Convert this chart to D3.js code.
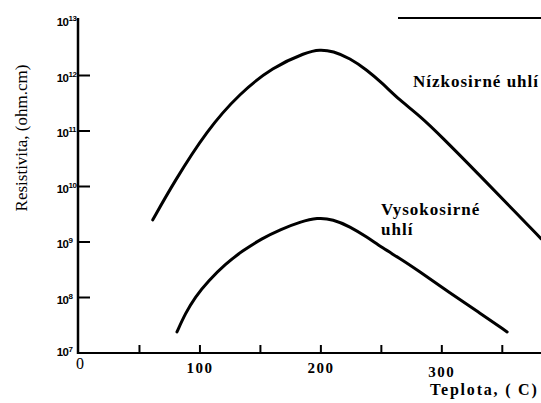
<!DOCTYPE html>
<html><head><meta charset="utf-8">
<script src="https://cdn.jsdelivr.net/npm/d3@7"></script>
<style>body{margin:0;background:#fff}svg{display:block}</style>
</head><body>
<svg id="c" width="541" height="403"></svg>
<script>
// Data (temperature in °C, resistivity in ohm.cm)
const lowSulfurT  = [61, 78, 106, 133, 160, 188, 199, 210, 224, 238, 251, 265, 282, 300, 330, 360, 382];
const lowSulfurR  = [2.51e9, 1.15e10, 1.05e11, 4.8e11, 1.41e12, 2.63e12, 2.95e12, 2.75e12, 2.04e12, 1.26e12, 7.2e11, 3.6e11, 1.86e11, 7.8e10, 1.7e10, 3.6e9, 1.15e9];
const highSulfurT = [81, 88, 96, 107, 121, 135, 151, 167, 183, 197, 210, 224, 238, 251, 265, 280, 307, 330, 354];
const highSulfurR = [2.4e7, 5.2e7, 1.02e8, 2.0e8, 4.0e8, 6.9e8, 1.15e9, 1.7e9, 2.3e9, 2.75e9, 2.57e9, 1.9e9, 1.23e9, 7.8e8, 5.1e8, 3.1e8, 1.2e8, 5.5e7, 2.4e7];
const xTicks = [50, 100, 150, 200, 250, 300, 350];
const xTickLabels = [100, 200, 300];
const yExponents = [7, 8, 9, 10, 11, 12, 13];

const SERIF = "'Liberation Serif', 'Times New Roman', 'DejaVu Serif', serif";
const SANS = "'Liberation Sans', Arial, 'DejaVu Sans', sans-serif";

const svg = d3.select("#c");
const x = d3.scaleLinear().domain([0, 382]).range([79, 541]);
const y = d3.scaleLog().domain([1e7, 1e13]).range([353, 20]);

// axes lines
svg.append("line").attr("x1", x(0)-1).attr("x2", 541).attr("y1", y(1e7)).attr("y2", y(1e7))
  .attr("stroke", "#000").attr("stroke-width", 2.2);
svg.append("line").attr("x1", x(0)-1).attr("x2", x(0)-1).attr("y1", 18).attr("y2", y(1e7)+1)
  .attr("stroke", "#000").attr("stroke-width", 2.5);
// top frame fragment
svg.append("line").attr("x1", 398).attr("x2", 541).attr("y1", 18).attr("y2", 18)
  .attr("stroke", "#000").attr("stroke-width", 2.2);

// x ticks (upward)
svg.selectAll(".xt").data(xTicks).enter().append("line")
  .attr("x1", d => x(d)).attr("x2", d => x(d))
  .attr("y1", y(1e7)).attr("y2", y(1e7) - 8)
  .attr("stroke", "#000").attr("stroke-width", 2);
svg.selectAll(".xl").data(xTickLabels).enter().append("text")
  .attr("x", d => x(d)).attr("y", d => d === 300 ? 377 : 373)
  .attr("text-anchor", "middle")
  .style("font-family", SERIF)
  .attr("font-weight", "bold").attr("font-size", 15).attr("letter-spacing", 1.5)
  .text(d => d);
svg.append("text").attr("x", 80).attr("y", 369).attr("text-anchor", "middle")
  .style("font-family", SERIF)
  .attr("font-size", 16).text("0");

// y ticks (inward, right)
svg.selectAll(".yt").data(yExponents.filter(e => e > 7 && e < 13)).enter().append("line")
  .attr("x1", x(0)-1).attr("x2", x(0) + 11)
  .attr("y1", d => y(Math.pow(10, d))).attr("y2", d => y(Math.pow(10, d)))
  .attr("stroke", "#000").attr("stroke-width", 2);
svg.selectAll(".yl").data(yExponents).enter().append("text")
  .attr("x", 68).attr("y", d => y(Math.pow(10, d)) + (d === 7 ? 3 : 6))
  .attr("text-anchor", "end")
  .style("font-family", SANS)
  .attr("font-weight", "bold").attr("font-size", 11.5).attr("letter-spacing", -0.8)
  .text("10");
svg.selectAll(".ys").data(yExponents).enter().append("text")
  .attr("x", 68.5).attr("y", d => y(Math.pow(10, d)) + (d === 7 ? -1 : 1))
  .style("font-family", SANS)
  .attr("font-weight", "bold").attr("font-size", 8).attr("letter-spacing", -0.5)
  .text(d => d);

// axis titles
svg.append("text").attr("transform", "translate(27,138) rotate(-90)")
  .attr("text-anchor", "middle")
  .style("font-family", SERIF)
  .attr("font-size", 17).text("Resistivita, (ohm.cm)");
svg.append("text").attr("x", 430).attr("y", 395)
  .style("font-family", SERIF)
  .attr("font-weight", "bold").attr("font-size", 16).attr("letter-spacing", 1.8)
  .text("Teplota, ( C)");

// curves
const line = d3.line().x(d => x(d[0])).y(d => y(d[1])).curve(d3.curveBasis);
svg.append("path").datum(lowSulfurT.map((t, i) => [t, lowSulfurR[i]]))
  .attr("d", line).attr("fill", "none").attr("stroke", "#000").attr("stroke-width", 3)
  .attr("stroke-linecap", "round");
svg.append("path").datum(highSulfurT.map((t, i) => [t, highSulfurR[i]]))
  .attr("d", line).attr("fill", "none").attr("stroke", "#000").attr("stroke-width", 3)
  .attr("stroke-linecap", "round");

// series labels
const lab = (t, xx, yy) => svg.append("text").attr("x", xx).attr("y", yy)
  .style("font-family", SERIF)
  .attr("font-weight", "bold").attr("font-size", 17).attr("letter-spacing", 1)
  .text(t);
lab("Nízkosirné uhlí", 413, 87);
lab("Vysokosirné", 381, 215);
lab("uhlí", 381, 235);
</script>
</body></html>
